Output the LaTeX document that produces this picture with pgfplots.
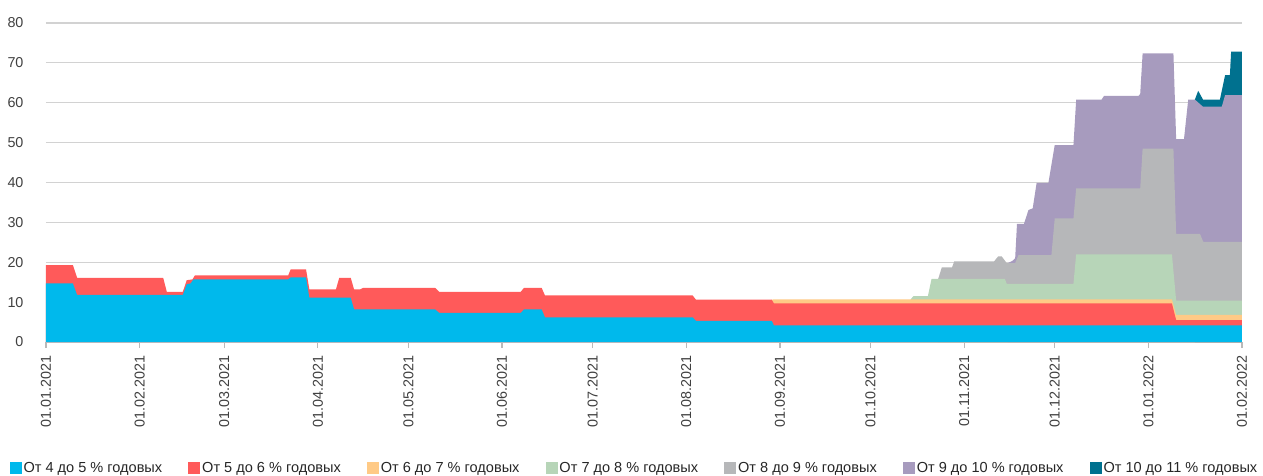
\documentclass[border=0pt]{standalone}
\usepackage{fontspec}
\setmainfont{Liberation Sans}
\usepackage{pgfplots}
\pgfplotsset{compat=1.18}

\definecolor{cBlue}{HTML}{00B9EC}
\definecolor{cRed}{HTML}{FF5A5A}
\definecolor{cYellow}{HTML}{FFCA86}
\definecolor{cGreen}{HTML}{B7D5B8}
\definecolor{cGray}{HTML}{B6B7B9}
\definecolor{cPurple}{HTML}{A79BBE}
\definecolor{cTeal}{HTML}{00718F}
\definecolor{cText}{HTML}{404040}

\begin{document}
\begin{tikzpicture}
% page frame as in the reference (axis box sits at the origin)
\useasboundingbox (-46bp,-134bp) rectangle (1217bp,342bp);
% layers are cumulative tops, drawn from the top layer down
\begin{axis}[
    scale only axis,
    width=1196bp, height=319bp,
    xmin=0, xmax=396,
    ymin=0, ymax=80,
    ytick={0,10,...,80},
    xtick={0,31,59,90,120,151,181,212,243,273,304,334,365,396},
    xticklabels={01.01.2021,01.02.2021,01.03.2021,01.04.2021,01.05.2021,01.06.2021,
      01.07.2021,01.08.2021,01.09.2021,01.10.2021,01.11.2021,01.12.2021,01.01.2022,01.02.2022},
    axis lines*=left,
    y axis line style={draw=none},
    x axis line style={draw=gray!45, line width=1.2bp},
    ytick style={draw=none},
    xtick style={draw=gray!55, line width=1.2bp},
    tick align=outside,
    major tick length=6bp,
    ymajorgrids,
    grid style={draw=gray!35, line width=1.2bp},
    ticklabel style={font=\fontsize{14.4}{17}\selectfont, text=cText},
    /pgf/number format/assume math mode=true,
    yticklabel style={xshift=-13bp},
    xticklabel style={rotate=90, anchor=east},
    xticklabel shift=4bp,
    reverse legend,
    legend columns=7,
    legend style={draw=none, fill=none, at={(0.492,-0.395)}, anchor=center,
      font=\fontsize{14.6}{17}\selectfont, text=black!85,
      /tikz/every even column/.append style={column sep=24bp},
      inner sep=0pt},
    legend image code/.code={\path[#1] (0bp,-6bp) rectangle (12bp,6bp);},
]
\addplot[fill=cTeal, draw=none] coordinates {
  (380.4,60.8) (381.5,63.0) (383.1,60.8) (388.7,60.8) (390.4,66.9)
  (392.0,66.9) (392.4,72.8) (396,72.8)
} \closedcycle;
\addlegendentry{От 10 до 11 \% годовых}
\addplot[fill=cPurple, draw=none] coordinates {
  (318.5,19.8) (319.9,20.3) (320.9,21.0) (321.5,29.6) (323.8,29.6)
  (325.3,33.1) (326.7,33.5) (328.0,39.9) (331.9,39.9) (334.0,49.4)
  (340.2,49.4) (341.1,60.8) (349.5,60.8) (350.3,61.7) (361.7,61.7)
  (362.3,62.2) (363.1,72.4) (373.3,72.4) (374.2,50.9) (376.8,50.9)
  (378.2,60.8) (380.4,60.8) (383.1,59.0) (389.3,59.0) (390.4,61.9)
  (396,61.9)
} \closedcycle;
\addlegendentry{От 9 до 10 \% годовых}
\addplot[fill=cGray, draw=none] coordinates {
  (295.4,15.8) (296.6,18.7) (300.0,18.7) (300.7,20.2) (313.9,20.2)
  (315.3,21.5) (316.4,21.5) (318.1,19.8) (320.9,19.8) (322.0,21.8)
  (332.9,21.8) (334.0,31.0) (340.2,31.0) (341.1,38.5) (362.3,38.5)
  (363.1,48.5) (373.3,48.5) (374.2,27.1) (382.1,27.1) (383.2,25.1)
  (396,25.1)
} \closedcycle;
\addlegendentry{От 8 до 9 \% годовых}
\addplot[fill=cGreen, draw=none] coordinates {
  (286.3,10.7) (287.2,11.5) (292.0,11.5) (293.2,15.8) (317.5,15.8)
  (318.1,14.6) (340.2,14.6) (341.1,22.0) (372.8,22.0) (374.2,10.4)
  (396,10.4)
} \closedcycle;
\addlegendentry{От 7 до 8 \% годовых}
\addplot[fill=cYellow, draw=none] coordinates {
  (240.3,10.6) (241.0,10.7) (372.8,10.7) (374.2,6.8) (396,6.8)
} \closedcycle;
\addlegendentry{От 6 до 7 \% годовых}
\addplot[fill=cRed, draw=none] coordinates {
  (0,19.3) (8.9,19.3) (10.3,16.1) (38.8,16.1) (40.0,12.6) (45.3,12.6)
  (46.6,15.5) (48.5,15.7) (49.3,16.7) (80.2,16.7) (81.0,18.2) (86.1,18.2)
  (87.2,13.2) (96.0,13.2) (97.1,16.1) (100.9,16.1) (102.0,13.2) (104.0,13.2)
  (105.1,13.6) (128.8,13.6) (130.2,12.6) (157.2,12.6) (158.3,13.6)
  (164.1,13.6) (165.2,11.7) (214.1,11.7) (215.2,10.6) (240.3,10.6)
  (241.0,9.7) (372.8,9.7) (374.2,5.5) (396,5.5)
} \closedcycle;
\addlegendentry{От 5 до 6 \% годовых}
\addplot[fill=cBlue, draw=none] coordinates {
  (0,14.7) (8.9,14.7) (10.3,11.8) (45.3,11.8) (46.6,14.5) (47.9,14.7)
  (48.8,15.7) (80.2,15.7) (81.0,16.2) (86.1,16.2) (87.2,11.1) (100.9,11.1)
  (102.0,8.2) (128.8,8.2) (130.2,7.3) (157.2,7.3) (158.3,8.2) (164.1,8.2)
  (165.2,6.2) (214.1,6.2) (215.2,5.3) (240.3,5.3) (241.0,4.2) (396,4.2)
} \closedcycle;
\addlegendentry{От 4 до 5 \% годовых}
\end{axis}
\end{tikzpicture}
\end{document}
